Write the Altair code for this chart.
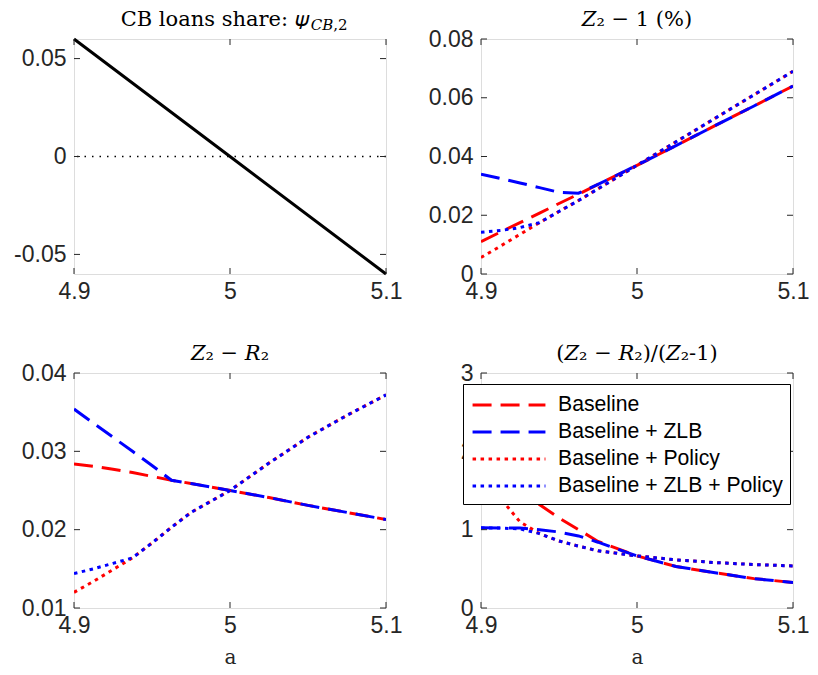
import altair as alt
import pandas as pd

# ---------------- data ----------------
X = [4.9, 4.9125, 4.925, 4.9375, 4.95, 4.9625, 4.975, 5.0, 5.025, 5.05, 5.075, 5.1]

SERIES = ["Baseline", "Baseline + ZLB", "Baseline + Policy", "Baseline + ZLB + Policy"]
COLORS = ["#ff0000", "#0000ff", "#ff0000", "#0000ff"]
DASHES = [[19, 9], [19, 9], [3.5, 4.5], [3.5, 4.5]]

# panel 1: CB loans share
PSI_X = [4.9, 5.0, 5.1]
PSI_Y = [0.06, 0.0, -0.06]

# panel 2: Z2 - 1 (%)
Z1_BASE = [0.011, 0.0143, 0.0175, 0.0207, 0.024, 0.0272, 0.0305, 0.037, 0.0437, 0.0505, 0.0572, 0.064]
Z1_ZLB = [0.034, 0.0325, 0.031, 0.0294, 0.0278, 0.0275, 0.0305, 0.037, 0.0437, 0.0505, 0.0572, 0.064]
Z1_POL = [0.0056, 0.0095, 0.0135, 0.0175, 0.0213, 0.025, 0.029, 0.037, 0.045, 0.053, 0.061, 0.069]
Z1_ZLBPOL = [0.0142, 0.0148, 0.0158, 0.0175, 0.0213, 0.025, 0.029, 0.037, 0.045, 0.053, 0.061, 0.069]

# panel 3: Z2 - R2
ZR_BASE = [0.0284, 0.0281, 0.0277, 0.0273, 0.0268, 0.0263, 0.0259, 0.025, 0.0241, 0.0231, 0.0222, 0.0213]
ZR_ZLB = [0.0354, 0.0336, 0.0318, 0.0300, 0.0282, 0.0263, 0.0259, 0.025, 0.0241, 0.0231, 0.0222, 0.0213]
ZR_POL = [0.012, 0.0134, 0.0149, 0.0164, 0.0183, 0.0203, 0.0222, 0.025, 0.0285, 0.0318, 0.0346, 0.0372]
ZR_ZLBPOL = [0.0144, 0.0150, 0.0157, 0.0164, 0.0183, 0.0203, 0.0222, 0.025, 0.0285, 0.0318, 0.0346, 0.0372]

# panel 4: (Z2 - R2)/(Z2 - 1)
RT_BASE = [2.55, 2.0, 1.62, 1.32, 1.15, 1.0, 0.85, 0.665, 0.53, 0.45, 0.375, 0.326]
RT_ZLB = [1.025, 1.022, 1.02, 1.0, 0.97, 0.92, 0.84, 0.665, 0.53, 0.45, 0.375, 0.326]
RT_POL = [2.15, 1.4, 1.1, 0.95, 0.855, 0.79, 0.73, 0.665, 0.615, 0.58, 0.555, 0.537]
RT_ZLBPOL = [1.02, 1.02, 1.01, 0.95, 0.855, 0.79, 0.73, 0.665, 0.615, 0.58, 0.555, 0.537]

X_TICKS = [4.9, 5.0, 5.1]
PSI_TICKS = [-0.05, 0.0, 0.05]
Z1_TICKS = [0, 0.02, 0.04, 0.06, 0.08]
ZR_TICKS = [0.01, 0.02, 0.03, 0.04]
RT_TICKS = [0, 1, 2, 3]

TITLES = ["𝑍₂ − 1 (%)", "𝑍₂ − 𝑅₂", "(𝑍₂ − 𝑅₂)/(𝑍₂-1)"]
PSI_TITLE = "CB loans share: 𝜓"
PSI_SUB = "𝐶𝐵,2"
X_TITLE = "a"

# ---------------- styling ----------------
W, H = 312, 235
AX = "#262626"
SANS = "Liberation Sans, Arial, Helvetica, sans-serif"
SERIF = "DejaVu Serif, Liberation Serif, serif"
TICK_LEN = 6
TITLE_SIZE = 21
TITLE_BASE = 13


def long_df(vals):
    rows = []
    for s, ys in zip(SERIES, vals):
        for xv, yv in zip(X, ys):
            rows.append({"x": xv, "y": yv, "series": s})
    return pd.DataFrame(rows)


def xscale():
    return alt.Scale(domain=[4.9, 5.1], nice=False, zero=False)


def yaxis(ticks):
    return alt.Axis(values=ticks, format="~g", labelExpr="replace(datum.label, '−', '-')",
                    labelFont=SANS, labelFontSize=23, labelColor=AX, labelPadding=8,
                    labelFlush=False, grid=False, domain=False, ticks=False, title=None)


def xaxis(with_title):
    kw = dict(values=X_TICKS, format="~g", labelFont=SANS, labelFontSize=23, labelColor=AX,
              labelPadding=6, labelFlush=False, grid=False, domain=False, ticks=False)
    if with_title:
        kw.update(title=X_TITLE, titleFont=SERIF, titleFontSize=20, titleFontWeight="normal",
                  titleColor=AX, titlePadding=10)
    else:
        kw.update(title=None)
    return alt.Axis(**kw)


def inner_ticks(yticks, ydom, bottom_row):
    ys = alt.Scale(domain=ydom, nice=False, zero=False)
    ydf = pd.DataFrame({"y": yticks})
    xdf = pd.DataFrame({"x": X_TICKS})
    ya = yaxis(yticks)
    xa = xaxis(bottom_row)
    left = alt.Chart(ydf).mark_rule(color=AX, strokeWidth=1).encode(
        y=alt.Y("y:Q", scale=ys, axis=ya), x=alt.value(0), x2=alt.value(TICK_LEN))
    right = alt.Chart(ydf).mark_rule(color=AX, strokeWidth=1).encode(
        y=alt.Y("y:Q", scale=ys, axis=ya), x=alt.value(W - TICK_LEN), x2=alt.value(W))
    bottom = alt.Chart(xdf).mark_rule(color=AX, strokeWidth=1).encode(
        x=alt.X("x:Q", scale=xscale(), axis=xa), y=alt.value(H - TICK_LEN), y2=alt.value(H))
    top = alt.Chart(xdf).mark_rule(color=AX, strokeWidth=1).encode(
        x=alt.X("x:Q", scale=xscale(), axis=xa), y=alt.value(0), y2=alt.value(TICK_LEN))
    return [left, right, bottom, top]


def title_mark(text):
    return alt.Chart(pd.DataFrame({"t": [text]})).mark_text(
        font=SERIF, fontSize=TITLE_SIZE, align="center", baseline="alphabetic", color="black"
    ).encode(text="t:N", x=alt.value(W / 2), y=alt.value(-TITLE_BASE))


def series_panel(vals, ydom, yticks, title, bottom_row, legend):
    df = long_df(vals)
    ys = alt.Scale(domain=ydom, nice=False, zero=False)
    if legend:
        leg = alt.Legend(title=None, orient="none", legendX=-18, legendY=11,
                         fillColor="white", strokeColor="black", padding=7,
                         labelFont=SANS, labelFontSize=21.2, labelColor="black", labelLimit=0,
                         symbolType="M-3,0H3", symbolSize=590, symbolStrokeWidth=3,
                         symbolOffset=25, labelOffset=35, rowPadding=2)
    else:
        leg = None
    layers = []
    for i, s in enumerate(SERIES):
        layers.append(
            alt.Chart(df).transform_filter(alt.datum.series == s)
            .mark_line(strokeWidth=3, clip=True)
            .encode(
                x=alt.X("x:Q", scale=xscale(), axis=xaxis(bottom_row)),
                y=alt.Y("y:Q", scale=ys, axis=yaxis(yticks)),
                color=alt.Color("series:N", scale=alt.Scale(domain=SERIES, range=COLORS), legend=leg),
                strokeDash=alt.StrokeDash("series:N", scale=alt.Scale(domain=SERIES, range=DASHES), legend=leg),
            )
        )
    return alt.layer(*layers, *inner_ticks(yticks, ydom, bottom_row), title_mark(title)).properties(
        width=W, height=H)


# panel 1
psi_df = pd.DataFrame({"x": PSI_X, "y": PSI_Y})
psi_dom = [-0.06, 0.06]
psi_ys = alt.Scale(domain=psi_dom, nice=False, zero=False)
psi_line = alt.Chart(psi_df).mark_line(color="black", strokeWidth=3).encode(
    x=alt.X("x:Q", scale=xscale(), axis=xaxis(False)),
    y=alt.Y("y:Q", scale=psi_ys, axis=yaxis(PSI_TICKS)),
)
zero_rule = alt.Chart(pd.DataFrame({"y": [0.0]})).mark_rule(
    color="black", strokeWidth=1.5, strokeDash=[1.5, 6]).encode(
    y=alt.Y("y:Q", scale=psi_ys, axis=yaxis(PSI_TICKS)))
t_main = alt.Chart(pd.DataFrame({"t": [PSI_TITLE]})).mark_text(
    font=SERIF, fontSize=TITLE_SIZE, align="right", baseline="alphabetic", color="black").encode(
    text="t:N", x=alt.value(W * 238 / 315), y=alt.value(-TITLE_BASE))
t_sub = alt.Chart(pd.DataFrame({"t": [PSI_SUB]})).mark_text(
    font=SERIF, fontSize=15, align="left", baseline="alphabetic", color="black").encode(
    text="t:N", x=alt.value(W * 238 / 315 + 1), y=alt.value(-TITLE_BASE + 4))
p1 = alt.layer(zero_rule, psi_line, *inner_ticks(PSI_TICKS, psi_dom, False), t_main, t_sub).properties(width=W, height=H)

p2 = series_panel([Z1_BASE, Z1_ZLB, Z1_POL, Z1_ZLBPOL], [0, 0.08], Z1_TICKS, TITLES[0], False, False)
p3 = series_panel([ZR_BASE, ZR_ZLB, ZR_POL, ZR_ZLBPOL], [0.01, 0.04], ZR_TICKS, TITLES[1], True, False)
p4 = series_panel([RT_BASE, RT_ZLB, RT_POL, RT_ZLBPOL], [0, 3], RT_TICKS, TITLES[2], True, True)

chart = alt.concat(p1, p2, p3, p4, columns=2, spacing={"column": 24, "row": 38}).resolve_scale(
    color="independent", strokeDash="independent"
).resolve_legend(
    color="independent", strokeDash="independent"
).properties(
    padding={"left": 5, "top": 0, "right": -1, "bottom": 0}
).configure_view(
    stroke=AX, strokeWidth=1
).configure(background="white")

chart.save("out.html", embed_options={"renderer": "svg", "actions": False})
